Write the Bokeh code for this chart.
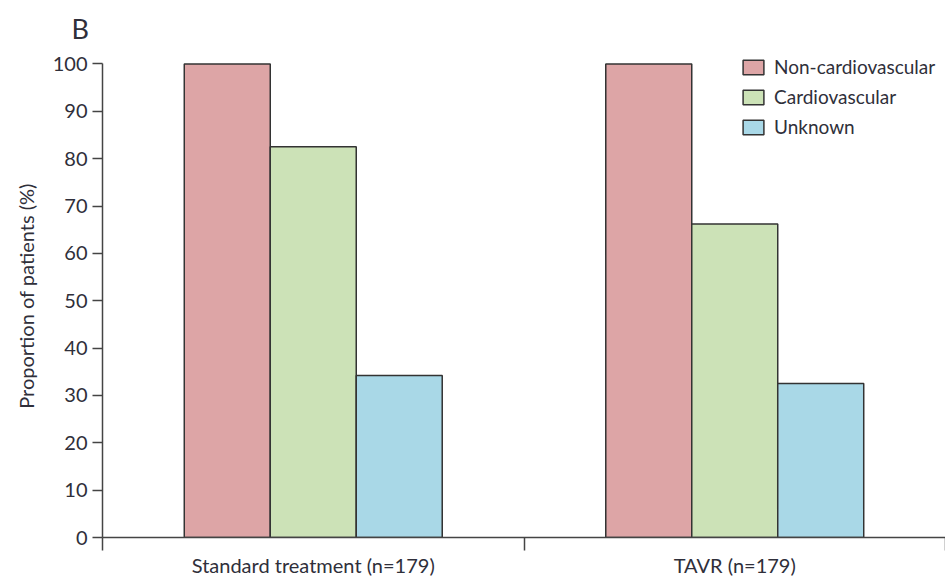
from bokeh.plotting import figure
from bokeh.models import Range1d, FixedTicker, ColumnDataSource
from bokeh.embed import file_html
from bokeh.resources import INLINE

groups = ["Standard treatment (n=179)", "TAVR (n=179)"]
series = ["Non-cardiovascular", "Cardiovascular", "Unknown"]
non_cardio = [100, 100]
cardio = [82.5, 66.2]
unknown = [34.2, 32.5]
colors = ["#DDA5A6", "#CCE2B7", "#A9D8E7"]
y_ticks = list(range(0, 101, 10))

FONT = "Lato"
TXT = "#2f2f3a"

p = figure(width=945, height=579, output_backend="svg", toolbar_location=None,
           x_range=Range1d(0, len(groups)), y_range=Range1d(0, 102),
           min_border_left=102, min_border_top=54, min_border_right=0, min_border_bottom=30,
           title="B")
p.outline_line_color = None
p.xgrid.grid_line_color = None
p.ygrid.grid_line_color = None

p.title.align = "left"
p.title.offset = -31
p.title.standoff = 19
p.title.text_font = FONT
p.title.text_font_size = "27px"
p.title.text_font_style = "normal"
p.title.text_color = TXT

bw = 0.204
offsets = [-bw, 0, bw]
for vals, name, col, off in zip([non_cardio, cardio, unknown], series, colors, offsets):
    src = ColumnDataSource(dict(x=[i + 0.5 + off for i in range(len(groups))], top=vals))
    p.vbar(x="x", top="top", bottom=0, width=bw, source=src, fill_color=col,
           line_color="#333333", line_width=1.5, legend_label=name)

# x axis: category boundaries as (minor) ticks, labels at group centers
xa = p.xaxis[0]
xa.ticker = FixedTicker(ticks=[i + 0.5 for i in range(len(groups))],
                        minor_ticks=list(range(len(groups) + 1)))
xa.major_label_overrides = {i + 0.5: g for i, g in enumerate(groups)}
xa.major_tick_out = 0
xa.major_tick_in = 0
xa.minor_tick_out = 13
xa.minor_tick_in = 0
xa.minor_tick_line_color = "#444444"
xa.minor_tick_line_width = 1.5
xa.axis_line_color = "#444444"
xa.axis_line_width = 1.5
xa.major_label_standoff = 2
xa.major_label_text_font = FONT
xa.major_label_text_font_size = "20px"
xa.major_label_text_color = TXT

ya = p.yaxis[0]
ya.ticker = FixedTicker(ticks=y_ticks, minor_ticks=[])
ya.bounds = (0, 100)
ya.major_tick_out = 10
ya.major_tick_in = 0
ya.major_tick_line_color = "#444444"
ya.major_tick_line_width = 1.5
ya.axis_line_color = "#444444"
ya.axis_line_width = 1.5
ya.major_label_standoff = 5
ya.major_label_text_font = FONT
ya.major_label_text_font_size = "20px"
ya.major_label_text_color = TXT
ya.axis_label = "Proportion of patients (%)"
ya.axis_label_text_font = FONT
ya.axis_label_text_font_size = "20px"
ya.axis_label_text_font_style = "normal"
ya.axis_label_text_color = TXT
ya.axis_label_standoff = 12

lg = p.legend[0]
lg.location = (638, 399)
lg.padding = 0
lg.margin = 0
lg.spacing = 7
lg.glyph_width = 26
lg.glyph_height = 18
lg.label_height = 18
lg.label_standoff = 8
lg.label_text_font = FONT
lg.label_text_font_size = "19px"
lg.label_text_color = TXT
lg.border_line_alpha = 0
lg.background_fill_alpha = 0

open("out.html", "w").write(file_html(p, INLINE))
